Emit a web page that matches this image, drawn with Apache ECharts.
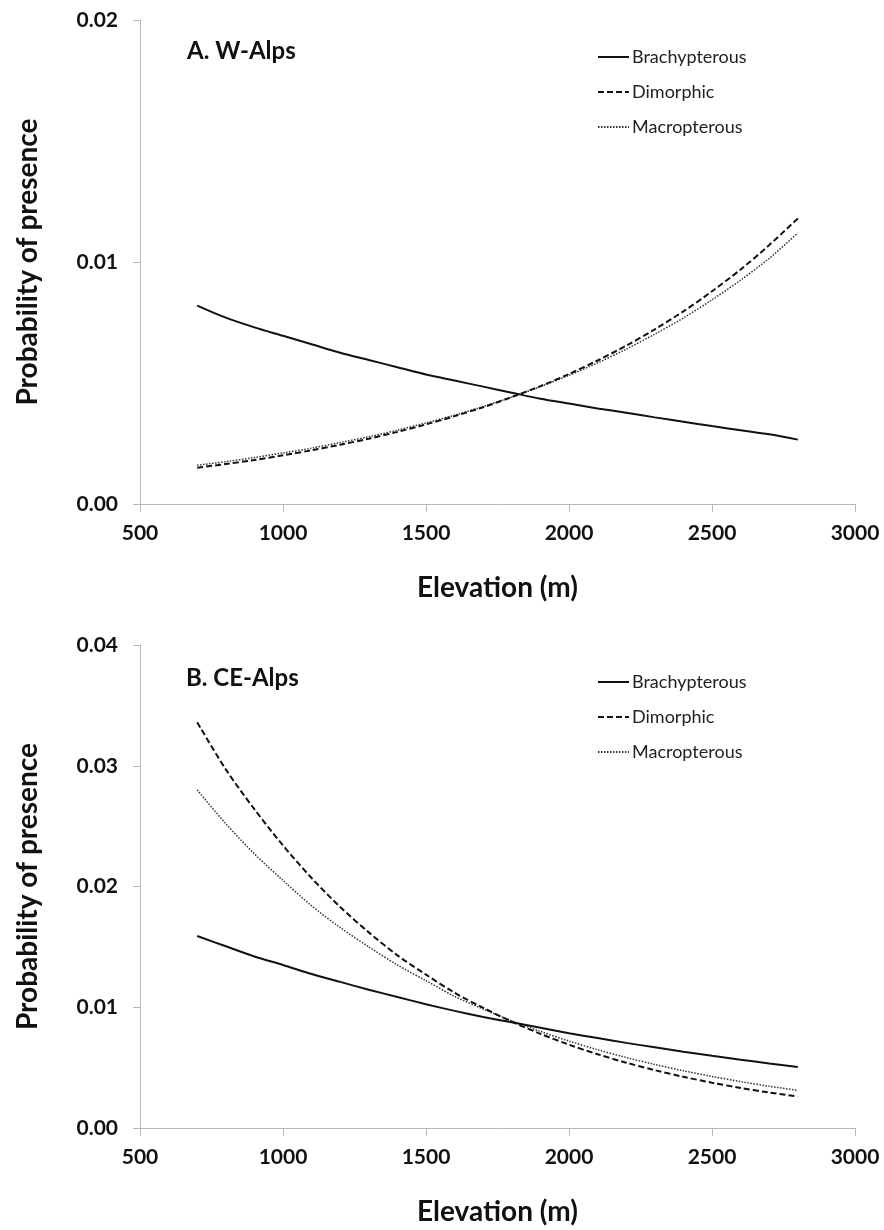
<!DOCTYPE html>
<html>
<head>
<meta charset="utf-8">
<script src="https://cdn.jsdelivr.net/npm/echarts@6/dist/echarts.min.js"></script>
<style>
html,body{margin:0;padding:0;background:#fff;}
#chart{width:884px;height:1230px;}
</style>
</head>
<body>
<div id="chart"></div>
<script>
// Elevation (m) at which the curves were read
const elevations = [700,800,900,1000,1100,1200,1300,1400,1500,1600,1700,1800,1900,2000,2100,2200,2300,2400,2500,2600,2700,2800];

// Panel A: W-Alps (probability x 1e-3)
const wBrachy = [8.2,7.7,7.3,6.95,6.6,6.25,5.95,5.65,5.35,5.1,4.85,4.6,4.35,4.15,3.95,3.77,3.58,3.4,3.22,3.05,2.88,2.66];
const wDimorph = [1.50,1.65,1.82,2.01,2.22,2.45,2.70,2.98,3.29,3.63,4.00,4.42,4.87,5.37,5.93,6.54,7.22,7.96,8.79,9.69,10.7,11.8];
const wMacro = [1.60,1.75,1.92,2.11,2.31,2.54,2.78,3.05,3.35,3.67,4.03,4.42,4.85,5.32,5.83,6.40,7.02,7.69,8.44,9.25,10.15,11.2];

// Panel B: CE-Alps (probability x 1e-3)
const ceBrachy = [15.9,15.05,14.2,13.5,12.75,12.1,11.45,10.85,10.25,9.7,9.2,8.75,8.3,7.85,7.45,7.05,6.68,6.32,5.98,5.66,5.35,5.05];
const ceDimorph = [33.6,29.7,26.4,23.4,20.7,18.3,16.2,14.3,12.7,11.2,9.95,8.81,7.80,6.90,6.11,5.41,4.79,4.24,3.75,3.32,2.94,2.61];
const ceMacro = [28.0,25.2,22.7,20.5,18.4,16.6,15.0,13.5,12.2,10.9,9.85,8.87,8.0,7.2,6.48,5.84,5.26,4.74,4.27,3.85,3.46,3.12];

const seriesNames = ['Brachypterous','Dimorphic','Macropterous'];
const panelTitles = ['A. W-Alps','B. CE-Alps'];
const xTicks = {min:500, max:3000, interval:500};
const yMaxes = [0.02, 0.04];

const FONT = 'Lato, "Open Sans", sans-serif';
const toPairs = arr => elevations.map((e,i)=>[e, arr[i]/1000]);

const styles = [
  {type:'solid', width:2, color:'#111'},
  {type:[6,3], width:2, color:'#111'},
  {type:[1.5,1.5], width:1.5, color:'#333'}
];

const panels = [[wBrachy,wDimorph,wMacro],[ceBrachy,ceDimorph,ceMacro]];
const grids = [
  {left:140, top:20, width:715, height:484},
  {left:140, top:645, width:715, height:483}
];

const axisLineStyle = {color:'#b8b8b8', width:1};

const xAxes = grids.map((g,i)=>({
  type:'value', gridIndex:i, min:xTicks.min, max:xTicks.max, interval:xTicks.interval,
  name:'Elevation (m)', nameLocation:'middle', nameGap:70,
  nameTextStyle:{fontFamily:FONT, fontWeight:'bold', fontSize:28, color:'#111'},
  axisLine:{show:true, lineStyle:axisLineStyle},
  axisTick:{show:true, length:8, lineStyle:axisLineStyle},
  axisLabel:{fontFamily:FONT, fontWeight:'bold', fontSize:21, color:'#111', margin:19,
    formatter:v=>String(v)},
  splitLine:{show:false}
}));

const yAxes = grids.map((g,i)=>({
  type:'value', gridIndex:i, min:0, max:yMaxes[i], interval:0.01,
  name:'Probability of presence', nameLocation:'middle', nameGap:98,
  nameTextStyle:{fontFamily:FONT, fontWeight:'bold', fontSize:28, color:'#111'},
  axisLine:{show:true, lineStyle:axisLineStyle},
  axisTick:{show:true, length:7, lineStyle:axisLineStyle},
  axisLabel:{fontFamily:FONT, fontWeight:'bold', fontSize:21, color:'#111', margin:22,
    formatter:v=>v.toFixed(2)},
  splitLine:{show:false}
}));

const series = [];
panels.forEach((arrs,p)=>{
  arrs.forEach((arr,k)=>{
    series.push({
      name:seriesNames[k], type:'line', xAxisIndex:p, yAxisIndex:p,
      data:toPairs(arr), showSymbol:false, symbol:'none', smooth:0.3,
      lineStyle:{color:styles[k].color, width:styles[k].width, type:styles[k].type},
      itemStyle:{color:styles[k].color},
      z:3-k, animation:false
    });
  });
});

const legends = [42, 667].map(t=>({
  orient:'vertical', left:592, top:t, itemWidth:31, itemHeight:14, itemGap:15,
  data:seriesNames, selectedMode:false,
  itemStyle:{opacity:0},
  textStyle:{fontFamily:FONT, fontSize:18, lineHeight:20, color:'#222', padding:[0,0,0,-2]}
}));

const titles = [
  {text:panelTitles[0], left:182, top:34},
  {text:panelTitles[1], left:181, top:661}
].map(t=>({text:t.text, left:t.left, top:t.top,
  textStyle:{fontFamily:FONT, fontWeight:'bold', fontSize:24, color:'#111'}}));

const chart = echarts.init(document.getElementById('chart'), null, {renderer:'canvas'});
chart.setOption({
  backgroundColor:'#fff',
  animation:false,
  title:titles,
  legend:legends,
  grid:grids,
  xAxis:xAxes,
  yAxis:yAxes,
  series:series
});
</script>
</body>
</html>
